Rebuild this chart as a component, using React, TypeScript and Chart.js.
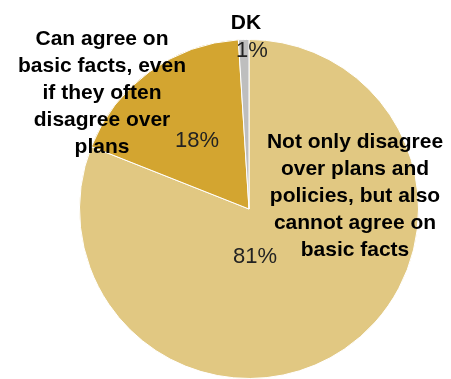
import React, { useEffect, useRef } from "react";
import { Chart, registerables } from "chart.js";

Chart.register(...registerables);

const categories = [
  "Not only disagree over plans and policies, but also cannot agree on basic facts",
  "Can agree on basic facts, even if they often disagree over plans",
  "DK",
];
const values = [81, 18, 1];
const sliceColors = ["#E1C882", "#D3A530", "#BEBEBE"];

const labelLines: string[][] = [
  ["Not only disagree", "over plans and", "policies, but also", "cannot agree on", "basic facts"],
  ["Can agree on", "basic facts, even", "if they often", "disagree over", "plans"],
  ["DK"],
];
// label anchor offsets relative to pie center (dx, dy of first baseline)
const labelAnchors = [
  [106, -61],
  [-147, -164],
  [-3, -180],
];
const pctAnchors = [
  [6, 54],
  [-52, -62],
  [3, -152],
];

export default function App() {
  const ref = useRef<HTMLCanvasElement>(null);
  useEffect(() => {
    document.body.style.margin = "0";
    const labelPlugin = {
      id: "labels",
      afterDraw(chart: any) {
        const ctx = chart.ctx;
        const arc = chart.getDatasetMeta(0).data[0];
        const cx = arc.x;
        const cy = arc.y;
        ctx.save();
        ctx.fillStyle = "#000";
        ctx.textAlign = "center";
        ctx.textBaseline = "alphabetic";
        ctx.font = "bold 21px 'Liberation Sans', Arial, sans-serif";
        labelLines.forEach((lines, i) => {
          lines.forEach((ln, j) => {
            ctx.fillText(ln, cx + labelAnchors[i][0], cy + labelAnchors[i][1] + j * 27);
          });
        });
        ctx.font = "22px 'Liberation Sans', Arial, sans-serif";
        ctx.fillStyle = "#222";
        values.forEach((v, i) => {
          ctx.fillText(v + "%", cx + pctAnchors[i][0], cy + pctAnchors[i][1]);
        });
        ctx.restore();
      },
    };
    const chart = new Chart(ref.current!, {
      type: "pie",
      data: {
        labels: categories,
        datasets: [
          {
            data: values,
            backgroundColor: sliceColors,
            borderColor: "#ffffff",
            borderWidth: 1,
          },
        ],
      },
      options: {
        animation: false,
        responsive: false,
        layout: { padding: { top: 39, bottom: 0, left: 78, right: 31 } },
        plugins: { legend: { display: false }, tooltip: { enabled: false } },
      },
      plugins: [labelPlugin],
    });
    return () => chart.destroy();
  }, []);
  return (
    <div style={{ position: "fixed", left: 0, top: 0, width: 451, height: 379, background: "#fff" }}>
      <canvas ref={ref} width={451} height={379} style={{ width: 451, height: 379 }} />
    </div>
  );
}
